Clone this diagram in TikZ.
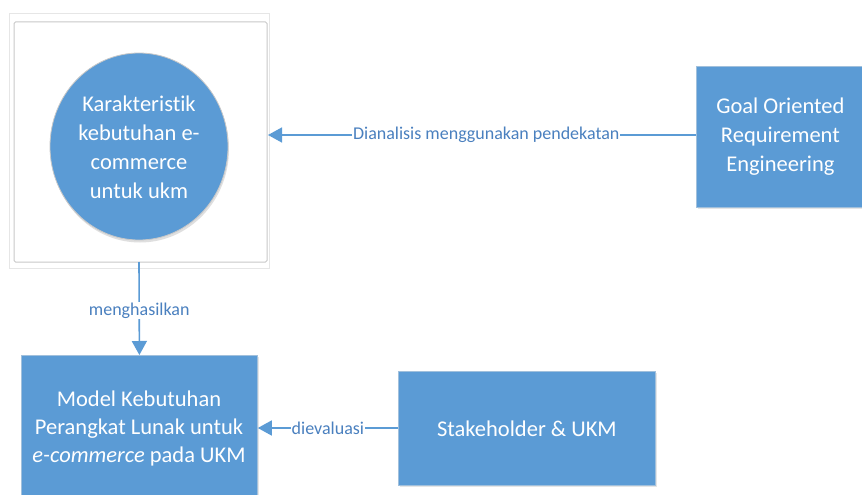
\documentclass[tikz,border=0pt]{standalone}
\usepackage{fontspec}
\setmainfont{Carlito}[Ligatures=NoCommon]
\usetikzlibrary{arrows.meta,shapes.geometric}
\definecolor{boxblue}{HTML}{5B9BD5}
\definecolor{lblblue}{HTML}{4A80BF}
\definecolor{framegray}{HTML}{C8C8C8}
\tikzset{
  bluebox/.style={draw=boxblue!80!gray!60, line width=0.8pt, fill=boxblue, text=white, font=\fontsize{22.5}{29}\selectfont, align=center, inner sep=0pt},
  conn/.style={draw=boxblue, line width=1.6pt, -{Triangle[length=14pt,width=15pt]}},
  lbl/.style={fill=white, text=lblblue, font=\fontsize{18}{20}\selectfont, inner sep=1pt},
}
\begin{document}
\begin{tikzpicture}[x=1pt,y=-1pt]
\useasboundingbox (0,0) rectangle (862,495);
% frames
\draw[framegray!45, line width=0.6pt] (9,13) rectangle (269,268);
\draw[framegray, line width=1pt, fill=white, rounded corners=1.5pt] (14,22) rectangle (267,262);
% circle
\fill[gray!25] (140,149) ellipse [x radius=89, y radius=93.5];
\node[bluebox, ellipse, minimum width=178pt, minimum height=187pt, draw=framegray] (kar) at (139,146.5) {};
\node[text=white, font=\fontsize{22.5}{29}\selectfont, align=center] (kartext) at (139,147) {Karakteristik\\kebutuhan e-\\commerce\\untuk ukm};
% goal box
\fill[gray!20] (698,68) rectangle (864,209);
\node[bluebox, minimum width=168pt, minimum height=141pt, anchor=north west] (goal) at (696,66) {Goal Oriented\\Requirement\\Engineering};
% model box
\fill[gray!20] (23,357) rectangle (259,497);
\node[bluebox, minimum width=236pt, minimum height=145pt, anchor=north west] (model) at (21,355) {};
\node[text=white, font=\fontsize{22.5}{28}\selectfont, align=center] (modeltext) at (139,428) {Model Kebutuhan\\Perangkat Lunak untuk\\\textit{e-commerce} pada UKM};
% stakeholder box
\fill[gray!20] (400,373) rectangle (657,487);
\node[bluebox, minimum width=257pt, minimum height=114pt, anchor=north west] (stake) at (398,371) {Stakeholder \& UKM};
% frame anchors
\coordinate (frameright) at (268,135);
\coordinate (framebottom) at (139,262);
\coordinate (goalleft) at (goal.west |- 0,135);
% connectors
\draw[conn] (goalleft) -- node[lbl, pos=0.49] (l1) {Dianalisis menggunakan pendekatan} (frameright);
\draw[conn] (framebottom) -- node[lbl, pos=0.52] (l2) {menghasilkan} (model.north);
\draw[conn] (stake.west |- 0,428) -- node[lbl] (l3) {dievaluasi} (model.east |- 0,428);
\end{tikzpicture}
\end{document}
